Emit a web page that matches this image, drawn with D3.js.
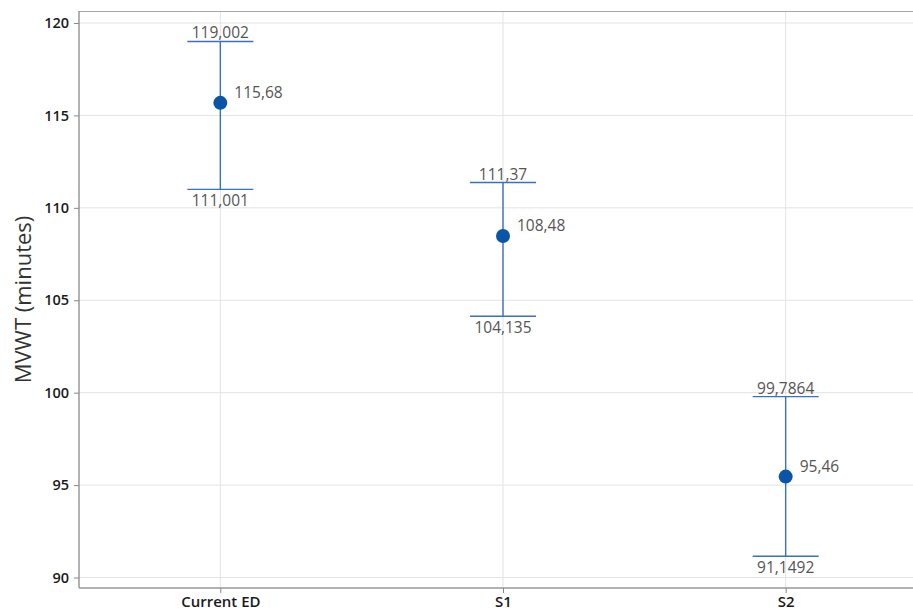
<!DOCTYPE html>
<html>
<head>
<meta charset="utf-8">
<script src="https://cdn.jsdelivr.net/npm/d3@7"></script>
<style>
  html, body { margin: 0; padding: 0; background: #fff; }
  svg { display: block; font-family: "Open Sans", "Noto Sans", sans-serif; }
</style>
</head>
<body>
<svg id="chart" width="913" height="613"></svg>
<script>
// Interval plot of MVWT per scenario
const categories = ["Current ED", "S1", "S2"];
const means = [115.68, 108.48, 95.46];
const upper = [119.002, 111.37, 99.7864];
const lower = [111.001, 104.135, 91.1492];
const upperLabels = ["119,002", "111,37", "99,7864"];
const lowerLabels = ["111,001", "104,135", "91,1492"];
const meanLabels = ["115,68", "108,48", "95,46"];
const yTicks = [90, 95, 100, 105, 110, 115, 120];

const svg = d3.select("#chart");
const plotLeft = 79, plotRight = 927, plotTop = 11, plotBottom = 588;

const x = d3.scalePoint().domain(categories).range([plotLeft, plotRight]).padding(0.5);
const y = d3.scaleLinear().domain([90, 120]).range([577.5, 23]);

// gridlines
svg.append("g").selectAll("line").data(yTicks).join("line")
  .attr("x1", plotLeft).attr("x2", 913)
  .attr("y1", d => y(d)).attr("y2", d => y(d))
  .attr("stroke", "#e3e3e3").attr("stroke-width", 1);
svg.append("g").selectAll("line").data(categories).join("line")
  .attr("x1", d => x(d)).attr("x2", d => x(d))
  .attr("y1", plotTop).attr("y2", plotBottom)
  .attr("stroke", "#e3e3e3").attr("stroke-width", 1);

// frame
svg.append("line").attr("x1", plotLeft).attr("x2", 913).attr("y1", plotTop + 0.5).attr("y2", plotTop + 0.5)
  .attr("stroke", "#a8a8a8").attr("stroke-width", 1.2);

// axes
const yAxis = svg.append("g").attr("transform", `translate(${plotLeft},0)`)
  .call(d3.axisLeft(y).tickValues(yTicks).tickSize(5).tickPadding(5).tickFormat(d3.format("d")));
yAxis.select(".domain").attr("d", `M0,${plotTop}V${plotBottom}`).attr("stroke", "#999").attr("stroke-width", 1.5);
yAxis.selectAll(".tick line").attr("stroke", "#888");
yAxis.selectAll(".tick text").attr("font-size", 14.5).attr("font-weight", 600).attr("fill", "#1a1a1a")
  .attr("font-family", "\"Open Sans\", sans-serif");

const xAxis = svg.append("g").attr("transform", `translate(0,${plotBottom})`)
  .call(d3.axisBottom(x).tickSize(5).tickPadding(3));
xAxis.select(".domain").attr("d", `M${plotLeft},0H913`).attr("stroke", "#999").attr("stroke-width", 1.5);
xAxis.selectAll(".tick line").attr("stroke", "#888");
xAxis.selectAll(".tick text").attr("font-size", 15).attr("font-weight", 600).attr("fill", "#1a1a1a")
  .attr("font-family", "\"Open Sans\", sans-serif");

// y axis title
svg.append("text")
  .attr("transform", `translate(31,${(plotTop + plotBottom) / 2}) rotate(-90)`)
  .attr("text-anchor", "middle")
  .attr("font-size", 22).attr("fill", "#333")
  .text("MVWT (minutes)");

const data = categories.map((c, i) => ({
  c, mean: means[i], hi: upper[i], lo: lower[i],
  hiLab: upperLabels[i], loLab: lowerLabels[i], meanLab: meanLabels[i]
}));

const lineColor = "#3a6fc4";
const capHalf = 33;
const g = svg.append("g");

// whiskers
g.selectAll(".whisker").data(data).join("line")
  .attr("x1", d => x(d.c)).attr("x2", d => x(d.c))
  .attr("y1", d => y(d.hi)).attr("y2", d => y(d.lo))
  .attr("stroke", lineColor).attr("stroke-width", 1.4);
g.selectAll(".capHi").data(data).join("line")
  .attr("x1", d => x(d.c) - capHalf).attr("x2", d => x(d.c) + capHalf)
  .attr("y1", d => y(d.hi)).attr("y2", d => y(d.hi))
  .attr("stroke", lineColor).attr("stroke-width", 1.4);
g.selectAll(".capLo").data(data).join("line")
  .attr("x1", d => x(d.c) - capHalf).attr("x2", d => x(d.c) + capHalf)
  .attr("y1", d => y(d.lo)).attr("y2", d => y(d.lo))
  .attr("stroke", lineColor).attr("stroke-width", 1.4);

// mean points
g.selectAll("circle").data(data).join("circle")
  .attr("cx", d => x(d.c)).attr("cy", d => y(d.mean)).attr("r", 7)
  .attr("fill", "#0b55a8");

// value labels
const labStyle = sel => sel.attr("font-size", 15.5).attr("fill", "#555")
  .attr("font-family", "\"Open Sans\", sans-serif");
g.selectAll(".hiLab").data(data).join("text").call(labStyle)
  .attr("x", d => x(d.c)).attr("y", d => y(d.hi) - 3)
  .attr("text-anchor", "middle").text(d => d.hiLab);
g.selectAll(".loLab").data(data).join("text").call(labStyle)
  .attr("x", d => x(d.c)).attr("y", d => y(d.lo) + 17)
  .attr("text-anchor", "middle").text(d => d.loLab);
g.selectAll(".meanLab").data(data).join("text").call(labStyle)
  .attr("x", d => x(d.c) + 14).attr("y", d => y(d.mean) - 5)
  .attr("text-anchor", "start").text(d => d.meanLab);
</script>
</body>
</html>
